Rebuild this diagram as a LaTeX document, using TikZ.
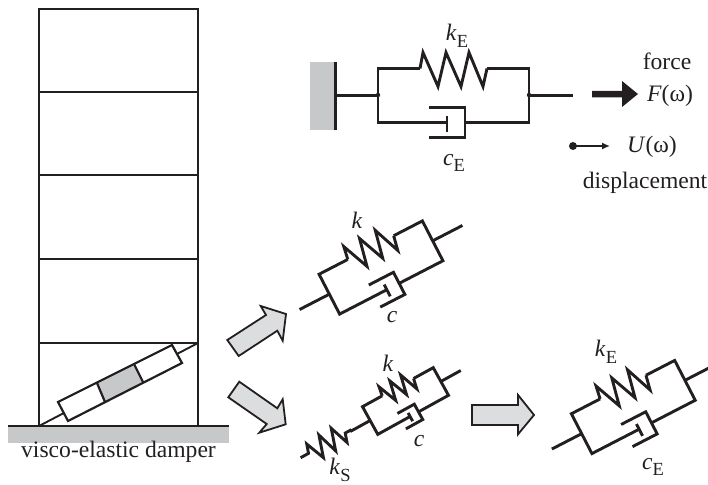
\documentclass[tikz,border=0pt]{standalone}
\usepackage{fontspec}
\setmainfont{Liberation Serif}
\usetikzlibrary{arrows.meta}
\definecolor{ink}{HTML}{231F20}
\definecolor{wallgray}{HTML}{C7C8CA}
\definecolor{arrowgray}{HTML}{DCDDDE}
\tikzset{
  x=1pt,y=-1pt,
  frameline/.style={draw=ink,line width=2.1pt},
  mech/.style={draw=ink,line width=2.9pt,line join=miter},
  blockarrow/.style={draw=ink,fill=arrowgray,line width=1.8pt,line join=miter},
  lbl/.style={text=ink,inner sep=0pt,font=\fontsize{23.6}{26}\selectfont}
}
\newcommand{\subl}[2]{\textit{#1}\raisebox{-.28em}{\fontsize{18.5}{18.5}\selectfont #2}}
% spring zigzag in local coordinates centred on origin
\newcommand{\zig}{(-33.5,-27) -- (-30.5,-43) -- (-15.5,-9) -- (-7.5,-43) -- (7.5,-9) -- (15.5,-43) -- (29.5,-9) -- (33.5,-27)}
% parallel spring/dashpot unit
\newcommand{\unit}[7]{%
\begin{scope}[shift={(#1,#2)},rotate=#3,xscale=#4,yscale=#5]
  \draw[mech] (-#6,0) -- (-75.5,0);
  \draw[mech] (75.5,0) -- (#7,0);
  \draw[mech] (-33.5,-27) -- (-75.5,-27) -- (-75.5,27) -- (-6.5,27);
  \draw[mech] \zig;
  \draw[mech] (33.5,-27) -- (75.5,-27) -- (75.5,27) -- (11.5,27);
  \draw[mech] (-6.5,20) -- (-6.5,36);
  \draw[mech] (-24.5,12) -- (11.5,12) -- (11.5,42) -- (-24.5,42);
\end{scope}}
\begin{document}
\begin{tikzpicture}
\useasboundingbox (0,0) rectangle (708,484);
% ground
\fill[wallgray] (8,426) rectangle (229,443);
% building
\draw[frameline] (39,426) -- (39,9) -- (198,9) -- (198,426);
\foreach \yy in {92,175,259,343}{\draw[frameline] (39,\yy) -- (198,\yy);}
\draw[draw=ink,line width=2.4pt] (8,426) -- (229,426);
% damper
\coordinate (dl) at (39,426);
\coordinate (dr) at (198,343);
\draw[draw=ink,line width=1.9pt] (dl) -- (dr);
\fill[white] (58,402) -- (172,345) -- (182,363) -- (68,421) -- cycle;
\fill[wallgray] (97,383) -- (134,364) -- (143,382) -- (105,402) -- cycle;
\draw[draw=ink,line width=2.2pt] (58,402) -- (172,345) -- (182,363) -- (68,421) -- cycle;
\draw[draw=ink,line width=2.2pt] (97,383) -- (105,402);
\draw[draw=ink,line width=2.2pt] (134,364) -- (143,382);
\node[lbl] (dampertext) at (118.5,452) {visco-elastic damper};
% top unit
\fill[wallgray] (310,62) rectangle (335,130);
\draw[mech] (335.5,62) -- (335.5,130);
\unit{453.5}{95.5}{0}{1}{1}{117.5}{119.5}
\fill[ink] (378,95) circle (2.2);
\fill[ink] (529,95) circle (2.2);
\node[lbl] (kEa) at (457,36) {\subl{k}{E}};
\node[lbl] (cEa) at (454,163) {\subl{c}{E}};
\node[lbl] (forcetext) at (667,61) {force};
\node[lbl] (Ftext) at (670,96) {\textit{F}(ω)};
\node[lbl] (Utext) at (652,147) {\textit{U}(ω)};
\node[lbl] (disptext) at (645,183) {displacement};
% force arrow
\draw[fill=ink,draw=none] (592,91) -- (622,91) -- (622,81) -- (638,94) -- (622,107) -- (622,97.5) -- (592,97.5) -- cycle;
% displacement arrow
\coordinate (ua) at (573,146);
\coordinate (ub) at (610,146);
\fill[ink] (ua) circle (4);
\draw[draw=ink,line width=1.5pt,-{Latex[length=8pt,width=7pt]}] (ua) -- (ub);
% rotated units
\unit{381}{267.5}{27.3}{0.77}{0.83}{119}{119}
\node[lbl] (k1) at (357,220) {\textit{k}};
\node[lbl] (c1) at (392,317) {\textit{c}};
\unit{405.5}{401}{28.9}{0.535}{0.585}{118}{118}
\node[lbl] (k2) at (388,363) {\textit{k}};
\node[lbl] (c2) at (419,441) {\textit{c}};
% series spring
\begin{scope}[shift={(326,443.7)},rotate=28.9]
  \draw[mech] (-29,0) -- (-20,0) -- (-17,-9) -- (-9,11) -- (-2,-11) -- (5,11) -- (12,-11) -- (19,9) -- (22,0) -- (29,0);
\end{scope}
\node[lbl] (kS) at (340,470) {\subl{k}{S}};
\unit{633.3}{407}{27.3}{0.77}{0.83}{119}{119}
\node[lbl] (kE2) at (606,352) {\subl{k}{E}};
\node[lbl] (cE2) at (653,467) {\subl{c}{E}};
% grey arrows
\draw[blockarrow] (227.3,340) -- (238.7,356) -- (277.3,330.7) -- (282.7,340.7) -- (286,314) -- (260.7,306) -- (266,315) -- cycle;
\draw[blockarrow] (239.3,381.7) -- (228.3,397.3) -- (266.7,424) -- (259.3,432.7) -- (285.7,424.3) -- (282.7,399.3) -- (277.3,408.3) -- cycle;
\draw[blockarrow] (472,405) -- (518,405) -- (518,395) -- (534,415) -- (518,434.3) -- (518,425) -- (472,425) -- cycle;
\end{tikzpicture}
\end{document}
